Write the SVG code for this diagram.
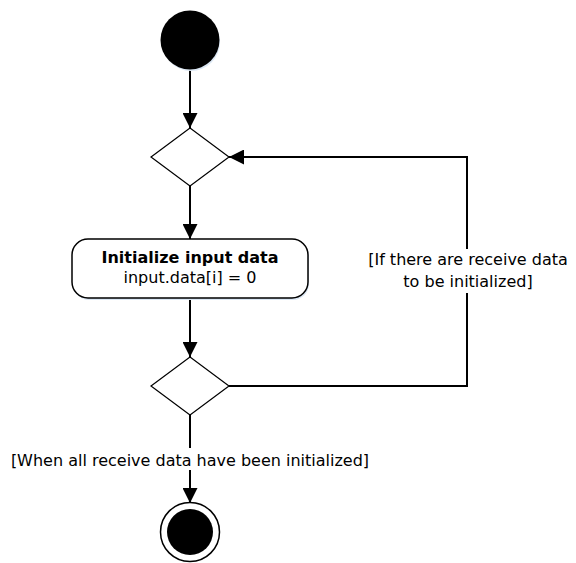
<svg xmlns="http://www.w3.org/2000/svg" width="576" height="563" viewBox="0 0 576 563">
<style>
.edge{fill:none;stroke:#000;stroke-width:2}
.dia{fill:#fff;stroke:#000;stroke-width:1.2}
.lbl{font-family:"DejaVu Sans",Verdana,sans-serif;font-size:16px;fill:#000;text-anchor:middle}
.t{font-family:"DejaVu Sans",Verdana,sans-serif;font-size:16px;fill:#000;text-anchor:middle}
</style>
<defs>
<marker id="arr" markerWidth="15" markerHeight="15" viewBox="0 0 15 15" refX="15" refY="7.5" orient="auto" markerUnits="userSpaceOnUse">
<path d="M0,0 L15,7.5 L0,15 Z" fill="#000"/>
</marker>
</defs>
<rect width="576" height="563" fill="#fff"/>
<g id="connectors">
<path class="edge" d="M190,69 V128" marker-end="url(#arr)"/>
<path class="edge" d="M190,186 V239" marker-end="url(#arr)"/>
<path class="edge" d="M190,298 V357" marker-end="url(#arr)"/>
<path class="edge" d="M229,386 H467 V157 H229" marker-end="url(#arr)"/>
<path class="edge" d="M190,415 V503" marker-end="url(#arr)"/>
</g>
<g id="start">
<circle cx="191" cy="42" r="29" fill="#dbe7f4"/>
<circle cx="190" cy="40" r="29.5" fill="#000"/>
</g>
<g id="decision1">
<path class="dia" d="M190,128 L229,157 L190,186 L151,157 Z"/>
</g>
<g id="action">
<rect x="73" y="241" width="236" height="59" rx="16" fill="#dbe7f4"/>
<rect x="72" y="239" width="236" height="59" rx="16" fill="#fff" stroke="#000" stroke-width="1.5"/>
<text class="t" x="190" y="263" font-weight="bold" font-size="15.5">Initialize input data</text>
<text class="t" x="190" y="283">input.data[i] = 0</text>
</g>
<g id="decision2">
<path class="dia" d="M190,357 L229,386 L190,415 L151,386 Z"/>
</g>
<g id="loop-label">
<rect x="364" y="249" width="208" height="44" fill="#fff"/>
<text class="lbl" x="468" y="265">[If there are receive data</text>
<text class="lbl" x="468" y="287">to be initialized]</text>
</g>
<g id="exit-label">
<rect x="8" y="448" width="366" height="22" fill="#fff"/>
<text class="lbl" x="190" y="466">[When all receive data have been initialized]</text>
</g>
<g id="end">
<circle cx="190" cy="532" r="29.5" fill="#fff" stroke="#000" stroke-width="1.5"/>
<circle cx="190" cy="532" r="23" fill="#000"/>
</g>
</svg>
